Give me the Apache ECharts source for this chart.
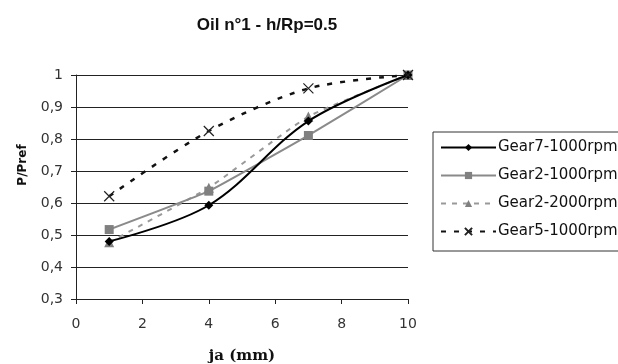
<!DOCTYPE html>
<html>
<head>
<meta charset="utf-8">
<script src="https://cdn.jsdelivr.net/npm/echarts@6/dist/echarts.min.js"></script>
<style>
  html, body { margin: 0; padding: 0; background: #fff; }
  #chart { width: 618px; height: 364px; }
</style>
</head>
<body>
<div id="chart"></div>
<script>
var ja = [1, 4, 7, 10];
var gear7_1000 = [0.48, 0.593, 0.856, 1.0];
var gear2_1000 = [0.517, 0.637, 0.811, 1.0];
var gear2_2000 = [0.477, 0.648, 0.87, 1.0];
var gear5_1000 = [0.621, 0.825, 0.958, 1.0];

function pares(ys) {
    return ja.map(function (x, i) { return [x, ys[i]]; });
}

var CRUZ = 'path://M0,0L10,10M10,0L0,10';

var myChart = echarts.init(document.getElementById('chart'), null, { renderer: 'canvas' });

var option = {
    animation: false,
    backgroundColor: '#fff',
    title: {
        text: 'Oil n°1 - h/Rp=0.5',
        left: 262,
        textAlign: 'center',
        top: 12,
        textStyle: { fontFamily: 'Liberation Sans', fontSize: 17, fontWeight: 'bold', color: '#111' }
    },
    graphic: [{
        type: 'text',
        x: 23,
        y: 165,
        rotation: Math.PI / 2,
        style: {
            text: 'P/Pref',
            fontFamily: 'DejaVu Sans',
            fontWeight: 'bold',
            fontSize: 12,
            fill: '#111',
            align: 'center',
            verticalAlign: 'middle'
        }
    }],
    grid: { left: 76, right: 210, top: 75, bottom: 65, outerBoundsMode: 'none' },
    legend: {
        orient: 'vertical',
        left: 433,
        top: 132,
        padding: [8, 10, 12, 7],
        borderColor: '#333',
        borderWidth: 1,
        itemWidth: 55,
        itemHeight: 9,
        itemGap: 13,
        textStyle: { fontFamily: 'DejaVu Sans', fontSize: 15, lineHeight: 14, color: '#111', padding: [0, 0, 0, -3] },
        data: ['Gear7-1000rpm', 'Gear2-1000rpm', 'Gear2-2000rpm', 'Gear5-1000rpm']
    },
    xAxis: {
        type: 'value',
        min: 0,
        max: 10,
        interval: 2,
        name: 'ja (mm)',
        nameLocation: 'middle',
        nameGap: 50,
        nameTextStyle: { fontFamily: 'DejaVu Serif', fontWeight: 'bold', fontSize: 15, color: '#111' },
        axisLine: { lineStyle: { color: '#222', width: 1 } },
        axisTick: { length: 5, lineStyle: { color: '#222' } },
        axisLabel: { fontFamily: 'DejaVu Sans', fontSize: 14, color: '#333', margin: 18 },
        splitLine: { show: false }
    },
    yAxis: {
        type: 'value',
        min: 0.3,
        max: 1,
        interval: 0.1,
        axisLine: { show: true, lineStyle: { color: '#222', width: 1 } },
        axisTick: { show: true, length: 5, lineStyle: { color: '#222' } },
        axisLabel: {
            fontFamily: 'DejaVu Sans', fontSize: 14, color: '#333', margin: 13,
            formatter: function (v) { return String(Math.round(v * 10) / 10).replace('.', ','); }
        },
        splitLine: { show: true, lineStyle: { color: '#222', width: 1 } }
    },
    series: [
        {
            name: 'Gear7-1000rpm',
            type: 'line',
            data: pares(gear7_1000),
            smooth: 0.35,
            symbol: 'diamond',
            symbolSize: 9,
            itemStyle: { color: '#000' },
            lineStyle: { color: '#000', width: 2 },
            z: 4
        },
        {
            name: 'Gear2-1000rpm',
            type: 'line',
            data: pares(gear2_1000),
            smooth: 0.1,
            symbol: 'rect',
            symbolSize: 9,
            itemStyle: { color: '#808080' },
            lineStyle: { color: '#8a8a8a', width: 2 },
            z: 3
        },
        {
            name: 'Gear2-2000rpm',
            type: 'line',
            data: pares(gear2_2000),
            smooth: 0.15,
            symbol: 'triangle',
            symbolSize: 10,
            itemStyle: { color: '#808080' },
            lineStyle: { color: '#999', width: 2, type: [5, 6] },
            z: 2
        },
        {
            name: 'Gear5-1000rpm',
            type: 'line',
            data: pares(gear5_1000),
            smooth: 0.3,
            symbol: CRUZ,
            symbolSize: 10,
            itemStyle: { color: 'none', borderColor: '#222', borderWidth: 1.2 },
            lineStyle: { color: '#111', width: 2.5, type: [5, 8] },
            z: 5
        }
    ]
};

myChart.setOption(option);
window.addEventListener('resize', myChart.resize);
</script>
</body>
</html>
